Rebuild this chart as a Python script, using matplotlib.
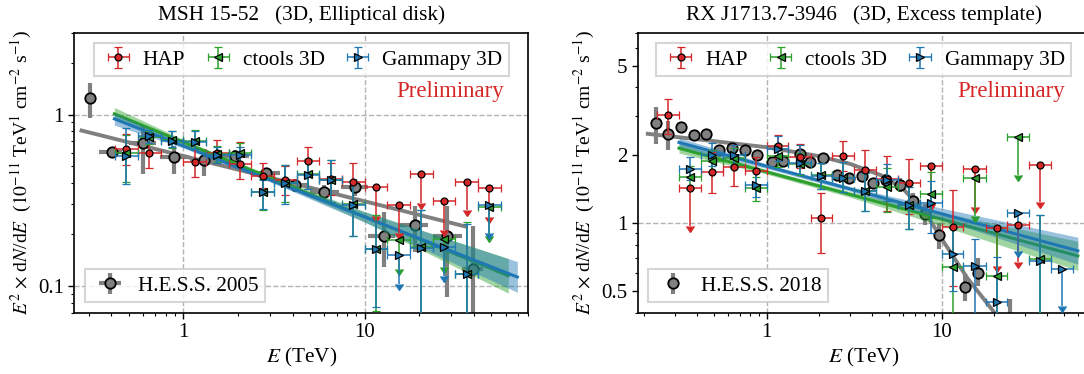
import numpy as np
import matplotlib
matplotlib.use("Agg")
import matplotlib.pyplot as plt
from matplotlib.ticker import NullFormatter, LogLocator

plt.rcParams["font.family"] = ["Liberation Serif", "DejaVu Serif"]
plt.rcParams["mathtext.fontset"] = "stix"
plt.rcParams["font.size"] = 15.3

RED, GREEN, BLUE, GRAY = "#d62728", "#2ca02c", "#1f77b4", "#808080"
UL_FRAC = 0.32  # length of the upper-limit arrows, fraction of the value

# ---------------- MSH 15-52 ----------------
msh_edges = [0.42, 0.56, 0.75, 1.0, 1.33, 1.78, 2.37, 3.16, 4.22, 5.62, 7.5,
             10, 13.3, 17.8, 23.7, 31.6, 42.2, 56.2]
nan = np.nan
msh_hap_f = [0.626, 0.598, nan, 0.532, 0.60, 0.516, 0.441, 0.413, 0.535, 0.422,
             0.403, 0.377, 0.299, 0.451, 0.313, 0.407, 0.374]
msh_hap_hi = [0.77, 0.75, nan, 0.69, 0.715, 0.69, 0.52, 0.50, 0.651, 0.52,
              0.522, nan, nan, nan, nan, nan, nan]
msh_hap_lo = [0.51, 0.49, nan, 0.435, 0.52, 0.42, 0.372, 0.34, 0.44, 0.34,
              0.31, nan, nan, nan, nan, nan, nan]
msh_hap_ul = [0] * 11 + [1] * 6

msh_ct_f = [0.60, 0.735, 0.71, 0.70, 0.59, 0.595, 0.352, 0.40, 0.45, 0.415,
            0.30, 0.165, 0.186, 0.170, 0.189, 0.118, 0.288]
msh_ct_hi = [0.765, 0.80, 0.80, 0.81, 0.66, 0.687, 0.42, 0.51, 0.55, 0.54,
             0.41, 0.26, nan, 0.276, nan, 0.236, nan]
msh_ct_lo = [0.403, 0.67, 0.64, 0.63, 0.53, 0.52, 0.278, 0.31, 0.37, 0.31,
             0.197, 0.072, nan, 0.03, nan, 0.03, nan]
msh_ct_ul = [0] * 12 + [1, 0, 1, 0, 1]

msh_gp_f = [0.575, 0.745, 0.705, 0.696, 0.585, 0.585, 0.352, 0.398, 0.447, 0.413,
            0.298, 0.165, 0.151, 0.166, 0.169, 0.117, 0.299]
msh_gp_hi = [0.837, 0.81, 0.807, 0.80, 0.65, 0.65, 0.413, 0.51, 0.53, 0.54,
             0.409, 0.24, nan, 0.276, nan, 0.231, nan]
msh_gp_lo = [0.395, 0.68, 0.645, 0.63, 0.525, 0.525, 0.282, 0.302, 0.37, 0.309,
             0.197, 0.076, nan, 0.03, nan, 0.03, nan]
msh_gp_ul = [0] * 12 + [1, 0, 1, 0, 1]

msh_hess_e = [0.307, 0.405, 0.598, 0.888, 1.30, 1.93, 2.86, 4.15, 6.0, 8.8,
              12.8, 18.9, 28.5, 39.7]
msh_hess_elo = [0.307, 0.342, 0.50, 0.74, 1.09, 1.62, 2.40, 3.48, 5.0, 7.4,
                10.4, 15.6, 23.8, 34.4]
msh_hess_ehi = [0.307, 0.459, 0.71, 1.06, 1.55, 2.30, 3.40, 4.95, 7.2, 10.4,
                14.7, 22.4, 34.4, 45.0]
msh_hess_f = [1.25, 0.609, 0.68, 0.569, 0.547, 0.577, 0.455, 0.386, 0.353, 0.377,
              0.197, 0.226, 0.195, 0.126]
msh_hess_hi = [1.52, 0.64, 0.86, 0.66, 0.63, 0.62, 0.49, 0.42, 0.39, 0.42,
               0.27, 0.295, 0.295, 0.224]
msh_hess_lo = [0.96, 0.58, 0.45, 0.45, 0.44, 0.54, 0.42, 0.355, 0.32, 0.335,
               0.13, 0.158, 0.086, 0.03]
msh_hess_line_e = [0.274, 35.8]
msh_hess_line_f = [0.807, 0.223]

msh_ct_line_e = [0.416, 1.0, 3.0, 10.0, 62.0]
msh_ct_line_f = [1.01, 0.69, 0.429, 0.254, 0.115]
msh_ct_band_lo = [0.93, 0.667, 0.417, 0.237, 0.091]
msh_ct_band_hi = [1.10, 0.714, 0.441, 0.272, 0.145]
msh_gp_line_e = [0.416, 1.0, 3.0, 10.0, 69.6]
msh_gp_line_f = [0.944, 0.656, 0.416, 0.253, 0.113]
msh_gp_band_lo = [0.868, 0.638, 0.406, 0.236, 0.092]
msh_gp_band_hi = [1.02, 0.674, 0.426, 0.271, 0.139]

# ---------------- RX J1713.7-3946 ----------------
rxj_edges = [0.237, 0.316, 0.42, 0.56, 0.75, 1.0, 1.33, 1.78, 2.37, 3.16, 4.22,
             5.62, 7.5, 10, 13.3, 17.8, 23.7, 31.6, 42.2, 56.2]
rxj_hap_f = [3.02, 1.426, 1.68, 1.77, 1.70, 2.19, 1.97, 1.048, 1.98, 1.72, 1.57,
             1.50, 1.786, 0.963, 1.74, 0.946, 0.983, 1.817, nan]
rxj_hap_hi = [3.56, nan, 2.06, 2.21, 1.97, 2.46, 2.25, 1.354, 2.32, 2.10, 1.99,
              1.93, nan, 1.406, nan, nan, nan, nan, nan]
rxj_hap_lo = [2.49, nan, 1.354, 1.465, 1.45, 1.95, 1.75, 0.735, 1.71, 1.37, 1.13,
              1.10, nan, 0.526, nan, nan, nan, nan, nan]
rxj_hap_ul = [0, 1] + [0] * 10 + [1, 0, 1, 1, 1, 1, 0]

rxj_ct_f = [nan, 1.60, 1.89, 1.95, 1.43, 1.99, 1.83, 1.64, 1.59, 1.39, 1.44,
            1.20, 1.35, 0.64, 1.58, 0.583, 2.40, 0.69, nan]
rxj_ct_hi = [nan, 1.80, 2.10, 2.15, 1.60, 2.25, 2.05, 1.84, 1.86, 1.66, 1.75,
             1.44, 1.69, 0.95, nan, 0.94, nan, 1.085, nan]
rxj_ct_lo = [nan, 1.42, 1.70, 1.75, 1.25, 1.78, 1.63, 1.42, 1.37, 1.13, 1.125,
             0.94, 1.05, 0.2, nan, 0.2, nan, 0.2, nan]
rxj_ct_ul = [0] * 14 + [1, 0, 1, 0, 0]

rxj_gp_f = [nan, 1.74, 2.01, 2.01, 1.48, 2.13, 1.84, 1.61, 1.585, 1.39, 1.55,
            1.20, 1.227, 0.728, 0.646, 0.447, 1.103, 0.68, 0.628]
rxj_gp_hi = [nan, 1.96, 2.26, 2.22, 1.68, 2.44, 2.21, 1.84, 1.86, 1.66, 1.83,
             1.44, 1.54, 0.956, 0.85, 0.71, nan, 1.085, nan]
rxj_gp_lo = [nan, 1.55, 1.80, 1.80, 1.30, 1.88, 1.65, 1.42, 1.37, 1.13, 1.256,
             0.94, 0.90, 0.50, 0.2, 0.2, nan, 0.2, nan]
rxj_gp_ul = [0] * 16 + [1, 0, 1]

rxj_hess_e = [0.233, 0.274, 0.323, 0.385, 0.45, 0.536, 0.636, 0.751, 0.884, 1.07,
              1.24, 1.54, 1.77, 2.09, 2.51, 2.96, 3.49, 4.07, 4.80, 5.78, 6.88,
              8.0, 9.7, 13.6, 16.2, 24.6]
rxj_hess_f = [2.77, 2.49, 2.68, 2.46, 2.49, 2.11, 2.15, 2.12, 2.00, 1.86, 1.89,
              2.03, 1.86, 1.94, 1.63, 1.585, 1.62, 1.50, 1.55, 1.48, 1.256, 1.10,
              0.884, 0.521, 0.603, 0.30]
rxj_hess_hi = [3.27, 2.85, 2.78, 2.55, 2.58, 2.19, 2.23, 2.20, 2.08, 1.94, 1.97,
               2.11, 1.94, 2.02, 1.71, 1.67, 1.71, 1.59, 1.65, 1.58, 1.36, 1.22,
               1.0, 0.595, 0.703, 0.46]
rxj_hess_lo = [2.25, 2.10, 2.58, 2.37, 2.40, 2.03, 2.07, 2.04, 1.92, 1.78, 1.81,
               1.95, 1.78, 1.86, 1.55, 1.50, 1.53, 1.41, 1.45, 1.38, 1.15, 0.98,
               0.77, 0.45, 0.526, 0.2]
rxj_hess_line_e = [0.209, 0.5, 1.0, 2.0, 3.0, 4.5, 6.0, 8.0, 10.0, 14.0, 20.0]
rxj_hess_line_f = [2.49, 2.31, 2.17, 1.98, 1.83, 1.63, 1.42, 1.12, 0.85, 0.57, 0.40]

rxj_ct_line_e = [0.315, 1.0, 3.0, 10.0, 59.9]
rxj_ct_line_f = [2.15, 1.687, 1.339, 1.040, 0.715]
rxj_ct_band_lo = [2.045, 1.649, 1.302, 0.971, 0.616]
rxj_ct_band_hi = [2.26, 1.726, 1.376, 1.114, 0.83]
rxj_gp_line_e = [0.315, 1.0, 3.0, 10.0, 59.9]
rxj_gp_line_f = [2.28, 1.787, 1.417, 1.099, 0.753]
rxj_gp_band_lo = [2.18, 1.746, 1.385, 1.037, 0.656]
rxj_gp_band_hi = [2.39, 1.829, 1.450, 1.164, 0.865]


def plot_points(ax, edges, f, hi, lo, ul, color, marker, label):
    edges = np.array(edges, float)
    e = np.sqrt(edges[:-1] * edges[1:])
    f, hi, lo = np.array(f, float), np.array(hi, float), np.array(lo, float)
    ul = np.array(ul, bool)
    xerr = np.array([e - edges[:-1], edges[1:] - e])
    style = dict(fmt=marker, color=color, mec="k", mew=0.9, ms=5.5 if marker != "o" else 5,
                 elinewidth=1.1, capsize=2.8, capthick=1.1, zorder=4)
    ok = ~np.isnan(f) & ~ul
    h = ax.errorbar(e[ok], f[ok], yerr=[f[ok] - lo[ok], hi[ok] - f[ok]],
                    xerr=xerr[:, ok], label=label, **style)
    u = ~np.isnan(f) & ul
    ax.errorbar(e[u], f[u], yerr=UL_FRAC * f[u], xerr=xerr[:, u], uplims=True, **style)
    return h


def plot_hess(ax, e, f, hi, lo, label, elo=None, ehi=None):
    e, f = np.array(e), np.array(f)
    xerr = None
    if elo is not None:
        xerr = [e - np.array(elo), np.array(ehi) - e]
    return ax.errorbar(e, f, yerr=[f - np.array(lo), np.array(hi) - f], xerr=xerr,
                       fmt="o", color=GRAY, mfc=GRAY, mec="k", mew=1.3, ms=7.5,
                       elinewidth=3, capsize=0, label=label, zorder=2)


def plot_model(ax, e, f, lo, hi, color):
    ax.fill_between(e, lo, hi, color=color, alpha=0.45, lw=0, zorder=3)
    ax.plot(e, f, color=color, lw=2.2, zorder=3)


fig = plt.figure(figsize=(10.84, 3.74), dpi=100)
ax1 = fig.add_axes([74.3 / 1084, 61.3 / 374, 454 / 1084, 280 / 374])
ax2 = fig.add_axes([637.7 / 1084, 61.3 / 374, 452 / 1084, 280 / 374])

# left panel
plot_hess(ax1, msh_hess_e, msh_hess_f, msh_hess_hi, msh_hess_lo, "H.E.S.S. 2005",
          msh_hess_elo, msh_hess_ehi)
ax1.plot(msh_hess_line_e, msh_hess_line_f, color=GRAY, lw=2.8, zorder=2)
plot_model(ax1, msh_ct_line_e, msh_ct_line_f, msh_ct_band_lo, msh_ct_band_hi, GREEN)
plot_model(ax1, msh_gp_line_e, msh_gp_line_f, msh_gp_band_lo, msh_gp_band_hi, BLUE)
plot_points(ax1, msh_edges, msh_hap_f, msh_hap_hi, msh_hap_lo, msh_hap_ul, RED, "o", "HAP")
plot_points(ax1, msh_edges, msh_ct_f, msh_ct_hi, msh_ct_lo, msh_ct_ul, GREEN, "<", "ctools 3D")
plot_points(ax1, msh_edges, msh_gp_f, msh_gp_hi, msh_gp_lo, msh_gp_ul, BLUE, ">", "Gammapy 3D")

# right panel
plot_hess(ax2, rxj_hess_e, rxj_hess_f, rxj_hess_hi, rxj_hess_lo, "H.E.S.S. 2018")
ax2.plot(rxj_hess_line_e, rxj_hess_line_f, color=GRAY, lw=2.8, zorder=2)
plot_model(ax2, rxj_ct_line_e, rxj_ct_line_f, rxj_ct_band_lo, rxj_ct_band_hi, GREEN)
plot_model(ax2, rxj_gp_line_e, rxj_gp_line_f, rxj_gp_band_lo, rxj_gp_band_hi, BLUE)
plot_points(ax2, rxj_edges, rxj_hap_f, rxj_hap_hi, rxj_hap_lo, rxj_hap_ul, RED, "o", "HAP")
plot_points(ax2, rxj_edges, rxj_ct_f, rxj_ct_hi, rxj_ct_lo, rxj_ct_ul, GREEN, "<", "ctools 3D")
plot_points(ax2, rxj_edges, rxj_gp_f, rxj_gp_hi, rxj_gp_lo, rxj_gp_ul, BLUE, ">", "Gammapy 3D")

titles = ["MSH 15-52   (3D, Elliptical disk)", "RX J1713.7-3946   (3D, Excess template)"]
ylims = [(0.07, 3.0), (0.4, 7.0)]
xlims = [(0.25, 80), (0.183, 70)]
yticks = [[0.1, 1], [0.5, 1, 2, 5]]
ytick_labels = [["0.1", "1"], ["0.5", "1", "2", "5"]]
grid_y = [[0.1, 1], [1]]

for ax, title, yl, xl, yt, ytl, gy in zip([ax1, ax2], titles, ylims, xlims, yticks,
                                          ytick_labels, grid_y):
    ax.set_xscale("log")
    ax.set_yscale("log")
    ax.set_xlim(*xl)
    ax.set_ylim(*yl)
    ax.set_xticks([1, 10], ["1", "10"])
    ax.set_yticks(yt, ytl)
    ax.xaxis.set_minor_locator(LogLocator(subs=np.arange(2, 10)))
    ax.yaxis.set_minor_locator(LogLocator(subs=np.arange(2, 10)))
    ax.xaxis.set_minor_formatter(NullFormatter())
    ax.yaxis.set_minor_formatter(NullFormatter())
    ax.tick_params(which="major", length=4, width=1, labelsize=15)
    ax.tick_params(which="minor", length=2.5, width=0.8)
    for s in ax.spines.values():
        s.set_linewidth(1.2)
    for v in [1, 10]:
        ax.axvline(v, color="0.7", ls="--", lw=1, zorder=0)
    for v in gy:
        ax.axhline(v, color="0.7", ls="--", lw=1, zorder=0)
    ax.set_title(title, fontsize=15.3, pad=9.5)
    ax.set_xlabel("$E$ (TeV)", labelpad=3)
    ax.set_ylabel(r"$E^2$ $\times$ d$N$/d$E$  "
                  r"($10^{-11}$ TeV$^{1}$ cm$^{-2}$ s$^{-1}$)", fontsize=14, labelpad=3)
    ax.text(0.946, 0.79, "Preliminary", transform=ax.transAxes, ha="right",
            va="center", color=RED, fontsize=16.5)

    handles, labels = ax.get_legend_handles_labels()
    top = [h for h, l in zip(handles, labels) if not l.startswith("H.E.S.S.")]
    top_l = [l for l in labels if not l.startswith("H.E.S.S.")]
    bot = [h for h, l in zip(handles, labels) if l.startswith("H.E.S.S.")]
    bot_l = [l for l in labels if l.startswith("H.E.S.S.")]
    leg1 = ax.legend(top, top_l, loc="upper center", ncol=3, fancybox=False,
                     edgecolor="0.8", framealpha=0.8, columnspacing=0.7,
                     handlelength=1.7, handletextpad=0.3, borderpad=0.3)
    leg1.get_frame().set_linewidth(1.5)
    ax.add_artist(leg1)
    leg2 = ax.legend(bot, bot_l, loc="lower left", fancybox=False,
                     edgecolor="0.8", framealpha=0.8, handlelength=1.75,
                     handletextpad=0.45, borderpad=0.3)
    leg2.get_frame().set_linewidth(1.5)

fig.savefig("out.png", dpi=100)
